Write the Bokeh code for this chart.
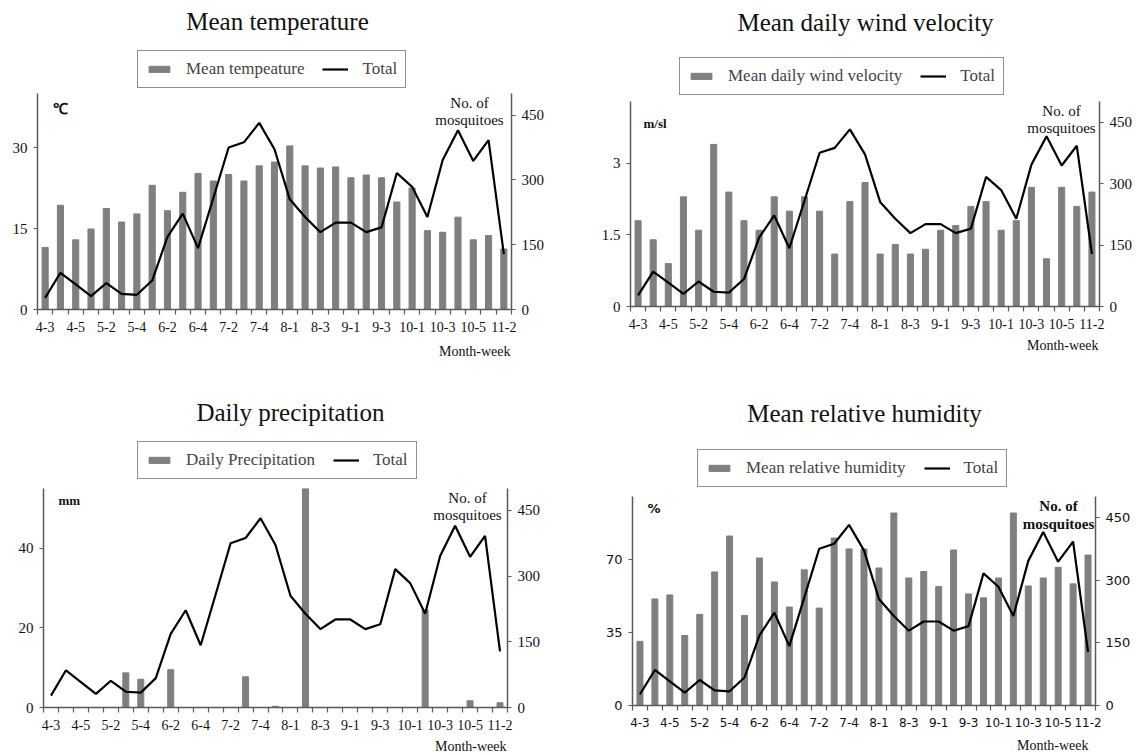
import numpy as np
from bokeh.plotting import figure
from bokeh.models import Range1d, LinearAxis, FixedTicker, Legend, LegendItem, Label
from bokeh.layouts import column, row
from bokeh.embed import file_html
from bokeh.resources import INLINE

# ---------------- data ----------------
categories = ["4-3", "4-4", "4-5", "5-1", "5-2", "5-3", "5-4", "6-1", "6-2", "6-3", "6-4",
              "7-1", "7-2", "7-3", "7-4", "7-5", "8-1", "8-2", "8-3", "8-4", "9-1", "9-2",
              "9-3", "9-4", "10-1", "10-2", "10-3", "10-4", "10-5", "11-1", "11-2"]
total_mosquitoes = [27, 85, 58, 31, 61, 36, 34, 67, 168, 222, 142, 258, 375, 387, 432, 371,
                    255, 214, 179, 201, 201, 179, 190, 316, 284, 214, 346, 415, 344, 392, 128]
mean_temperature = [11.5, 19.3, 12.9, 14.9, 18.7, 16.2, 17.7, 23.0, 18.3, 21.7, 25.2, 23.8,
                    25.0, 23.8, 26.6, 27.3, 30.3, 26.6, 26.2, 26.4, 24.4, 24.9, 24.4, 19.9,
                    22.5, 14.6, 14.3, 17.1, 12.9, 13.7, 11.2]
wind_velocity = [1.8, 1.4, 0.9, 2.3, 1.6, 3.4, 2.4, 1.8, 1.6, 2.3, 2.0, 2.3, 2.0, 1.1, 2.2, 2.6,
                 1.1, 1.3, 1.1, 1.2, 1.6, 1.7, 2.1, 2.2, 1.6, 1.8, 2.5, 1.0, 2.5, 2.1, 2.4]
precipitation = [0, 0, 0, 0, 0, 8.7, 7.1, 0, 9.5, 0, 0, 0, 0, 7.7, 0, 0.3,
                 0, 55, 0, 0, 0, 0, 0, 0, 0, 24.5, 0, 0, 1.7, 0, 1.2]
relative_humidity = [30.7, 51.0, 52.9, 33.5, 43.6, 63.9, 81.1, 43.1, 70.6, 59.1, 47.1, 64.9,
                     46.6, 80.1, 74.9, 74.9, 65.8, 92.1, 61.0, 64.1, 56.9, 74.4, 53.4, 51.5,
                     61.0, 92.1, 57.2, 61.0, 66.1, 58.2, 72.0]
right_ticks = [0, 150, 300, 450]
temp_ticks = [0, 15, 30]
wind_ticks = [0, 1.5, 3]
precip_ticks = [0, 20, 40]
humid_ticks = [0, 35, 70]

SERIF = "Liberation Serif"
SANS = "DejaVu Sans"
BAR = "#7f7f7f"
AXIS = "#5a5a5a"
TXT = "#111111"

n = len(categories)
xs = np.arange(n) + 0.5
AXIS_BAND = 30  # space under the frame for the category labels
NAN = float("nan")


def fmt(v):
    return ("%g" % v)


def blank(w, h, x_start, x_end):
    f = figure(width=w, height=h, output_backend="svg", toolbar_location=None,
               x_range=Range1d(x_start, x_end), y_range=Range1d(0, h),
               x_axis_location=None, y_axis_location=None,
               min_border_left=0, min_border_right=0, min_border_top=0, min_border_bottom=0)
    f.outline_line_color = None
    f.grid.visible = False
    f.background_fill_color = "white"
    f.border_fill_color = "white"
    return f


def make_panel(cfg):
    x0, y0, w, h = cfg["box"]
    L, T, R, B = cfg["frame"]
    header_h = T - y0
    plot_h = (B - T) + AXIS_BAND
    footer_h = h - header_h - plot_h
    left = L - x0
    right = x0 + w - R
    fh = B - T

    # ---------- plot ----------
    p = figure(width=w, height=plot_h, output_backend="svg", toolbar_location=None,
               x_range=Range1d(0, n), y_range=Range1d(0, cfg["ymax"]),
               min_border_left=left, min_border_right=right, min_border_bottom=AXIS_BAND,
               min_border_top=0)
    p.outline_line_color = None
    p.xgrid.visible = False
    p.ygrid.visible = False
    p.background_fill_color = "white"
    p.border_fill_color = "white"
    p.extra_y_ranges = {"r": Range1d(0, 500)}

    p.vbar(x=xs, top=cfg["values"], width=0.4, color=BAR)
    p.line(x=xs, y=total_mosquitoes, y_range_name="r", color="black", line_width=2.2)

    tf = cfg["tick_font"]
    xa = p.xaxis[0]
    xa.ticker = FixedTicker(ticks=[float(x) for x in xs[::2]], minor_ticks=list(range(n + 1)))
    xa.major_label_overrides = {float(xs[i]): categories[i] for i in range(0, n, 2)}
    xa.major_tick_out = 0
    xa.major_tick_in = 0
    xa.minor_tick_out = 5
    xa.minor_tick_in = 0
    xa.major_label_standoff = 7
    xa.major_label_text_font = tf
    xa.major_label_text_font_size = cfg["xtick_size"]
    xa.major_label_text_color = TXT
    xa.axis_line_color = AXIS
    xa.axis_line_width = 1.5
    xa.minor_tick_line_color = AXIS
    xa.minor_tick_line_width = 1.2

    ya = p.yaxis[0]
    ya.ticker = FixedTicker(ticks=cfg["yticks"])
    ya.major_label_overrides = {float(t): fmt(t) for t in cfg["yticks"]}
    ya.major_tick_out = 4
    ya.major_tick_in = 0
    ya.minor_tick_out = 0
    ya.major_label_standoff = 6
    ya.major_label_text_font = tf
    ya.major_label_text_font_size = cfg["ytick_size"]
    ya.major_label_text_color = TXT
    ya.axis_line_color = AXIS
    ya.axis_line_width = 1.5
    ya.major_tick_line_color = AXIS

    ra = LinearAxis(y_range_name="r", ticker=FixedTicker(ticks=right_ticks))
    ra.major_label_overrides = {float(t): fmt(t) for t in right_ticks}
    ra.major_tick_out = 4
    ra.major_tick_in = 0
    ra.minor_tick_out = 0
    ra.major_label_standoff = 6
    ra.major_label_text_font = tf
    ra.major_label_text_font_size = cfg["ytick_size"]
    ra.major_label_text_color = TXT
    ra.axis_line_color = AXIS
    ra.axis_line_width = 1.5
    ra.major_tick_line_color = AXIS
    p.add_layout(ra, "right")

    ux, uy = cfg["unit_pos"]
    p.add_layout(Label(x=ux, y=fh - uy, x_units="screen", y_units="screen", text=cfg["unit"],
                       text_font=cfg["unit_font"], text_font_size=cfg["unit_size"],
                       text_font_style="bold", text_align="left", text_baseline="middle",
                       text_color=TXT))
    mx, my1, my2 = cfg["mosq_pos"]
    style = "bold" if cfg["mosq_bold"] else "normal"
    for txt, yy in (("No. of", my1), ("mosquitoes", my2)):
        p.add_layout(Label(x=mx - L, y=fh - yy, x_units="screen", y_units="screen", text=txt,
                           text_font=SERIF, text_font_size="15px", text_font_style=style,
                           text_align="center", text_baseline="middle", text_color=TXT))

    # ---------- header: title + legend (frame is aligned with the plot frame L..R) ----------
    hd = blank(w, header_h, L, R)
    tx, ty = cfg["title_pos"]
    hd.add_layout(Label(x=tx, y=header_h - (ty - y0), text=cfg["title"],
                        text_font=SERIF, text_font_size="25px", text_align="center",
                        text_baseline="middle", text_color=TXT))
    key_bar = hd.vbar(x=[NAN], top=[NAN], width=1, color=BAR)
    key_line = hd.line(x=[NAN, NAN], y=[NAN, NAN], color="black", line_width=2.2)
    lx, lb = cfg["legend_pos"]
    legend = Legend(items=[LegendItem(label=cfg["bar_label"], renderers=[key_bar]),
                           LegendItem(label="Total", renderers=[key_line])],
                    orientation="horizontal", location=(lx - L, header_h - (lb - y0)),
                    border_line_color="#222222", border_line_width=1.2,
                    label_text_font=SERIF, label_text_font_size="17px",
                    glyph_width=26, glyph_height=8, label_standoff=14, spacing=18,
                    padding=8, margin=0, label_height=20)
    hd.add_layout(legend, "center")

    # ---------- footer: axis title ----------
    ft = blank(w, footer_h, L, R)
    wx, wy = cfg["mw_pos"]
    ft.add_layout(Label(x=min(wx, R - 1), y=footer_h - (wy - (y0 + header_h + plot_h)),
                        text="Month-week", text_font=SERIF, text_font_size="14px",
                        text_align="right", text_baseline="middle", text_color=TXT))
    return column(hd, p, ft, spacing=0)


panels = [
    dict(box=(0, 0, 569, 377), frame=(37, 93, 511, 309), title="Mean temperature",
         title_pos=(277, 21), legend_pos=(137, 88), bar_label="Mean tempeature",
         values=mean_temperature, ymax=40, yticks=temp_ticks, unit="\u2103",
         unit_font=SERIF, unit_size="15px", unit_pos=(15, 15), mosq_pos=(469, 9, 26),
         mosq_bold=False, mw_pos=(510, 351), tick_font=SERIF, xtick_size="14px",
         ytick_size="15px"),
    dict(box=(569, 0, 570, 377), frame=(630, 101, 1099, 306), title="Mean daily wind velocity",
         title_pos=(865, 22), legend_pos=(679, 95), bar_label="Mean daily wind velocity",
         values=wind_velocity, ymax=4.3, yticks=wind_ticks, unit="m/sl",
         unit_font=SERIF, unit_size="13px", unit_pos=(13, 22), mosq_pos=(1061, 9, 26),
         mosq_bold=False, mw_pos=(1098, 345), tick_font=SERIF, xtick_size="14px",
         ytick_size="15px"),
    dict(box=(0, 377, 569, 378), frame=(43, 488, 507, 707), title="Daily precipitation",
         title_pos=(290, 412), legend_pos=(137, 479), bar_label="Daily Precipitation",
         values=precipitation, ymax=55, yticks=precip_ticks, unit="mm",
         unit_font=SERIF, unit_size="13px", unit_pos=(15, 12), mosq_pos=(467, 9, 26),
         mosq_bold=False, mw_pos=(506, 746), tick_font=SERIF, xtick_size="14px",
         ytick_size="15px"),
    dict(box=(569, 377, 570, 378), frame=(632, 496, 1095, 705), title="Mean relative humidity",
         title_pos=(864, 413), legend_pos=(697, 487), bar_label="Mean relative humidity",
         values=relative_humidity, ymax=100, yticks=humid_ticks, unit="%",
         unit_font=SANS, unit_size="13px", unit_pos=(15, 12), mosq_pos=(1058, 9, 27),
         mosq_bold=True, mw_pos=(1088, 745), tick_font=SANS, xtick_size="12px",
         ytick_size="13px"),
]

cols = [make_panel(c) for c in panels]
layout = column(row(cols[0], cols[1], spacing=0), row(cols[2], cols[3], spacing=0), spacing=0)

open("out.html", "w").write(file_html(layout, INLINE))
